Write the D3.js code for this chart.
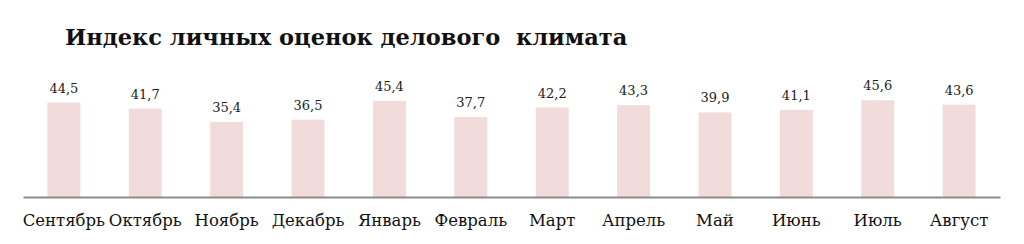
<!DOCTYPE html>
<meta charset="utf-8">
<script src="https://d3js.org/d3.v7.min.js"></script>
<style>
  body { margin: 0; background: #fff; }
  text { font-family: "DejaVu Serif", "Liberation Serif", serif; }
</style>
<div id="chart"></div>
<script>

var months = ["Сентябрь", "Октябрь", "Ноябрь", "Декабрь", "Январь", "Февраль",
              "Март", "Апрель", "Май", "Июнь", "Июль", "Август"];
var values = [44.5, 41.7, 35.4, 36.5, 45.4, 37.7, 42.2, 43.3, 39.9, 41.1, 45.6, 43.6];
var title = "Индекс личных оценок делового  климата";

var W = 1024, H = 244;
var left = 23, right = 1000, base = 197;

var svg = d3.select("#chart").append("svg")
  .attr("width", W).attr("height", H);

svg.append("text")
  .attr("x", 65).attr("y", 45)
  .attr("font-size", 22.5).attr("font-weight", "bold")
  .attr("fill", "#111")
  .style("white-space", "pre")
  .text(title);

var x = d3.scaleBand().domain(months).range([left, right]).paddingInner(0.595).paddingOuter(0.3);
var y = d3.scaleLinear().domain([0, 50]).range([base, base - 106]);

svg.selectAll("rect.bar").data(values).enter().append("rect")
  .attr("class", "bar")
  .attr("x", function(d, i) { return x(months[i]); })
  .attr("y", function(d) { return y(d); })
  .attr("width", x.bandwidth())
  .attr("height", function(d) { return base - y(d); })
  .attr("fill", "#f2dcdb");

svg.selectAll("text.val").data(values).enter().append("text")
  .attr("class", "val")
  .attr("x", function(d, i) { return x(months[i]) + x.bandwidth() / 2; })
  .attr("y", function(d) { return y(d) - 10; })
  .attr("text-anchor", "middle")
  .attr("font-size", 13)
  .attr("fill", "#222")
  .text(function(d) { return d3.format(".1f")(d).replace(".", ","); });

var axis = svg.append("g")
  .attr("transform", "translate(0," + base + ")")
  .call(d3.axisBottom(x).tickSize(0).tickPadding(17).tickSizeOuter(0));
axis.select(".domain").attr("stroke", "#8c8c8c").attr("stroke-width", 2);
axis.selectAll("text")
  .attr("font-family", "DejaVu Serif, serif")
  .attr("font-size", 16.5)
  .attr("fill", "#111");

</script>
